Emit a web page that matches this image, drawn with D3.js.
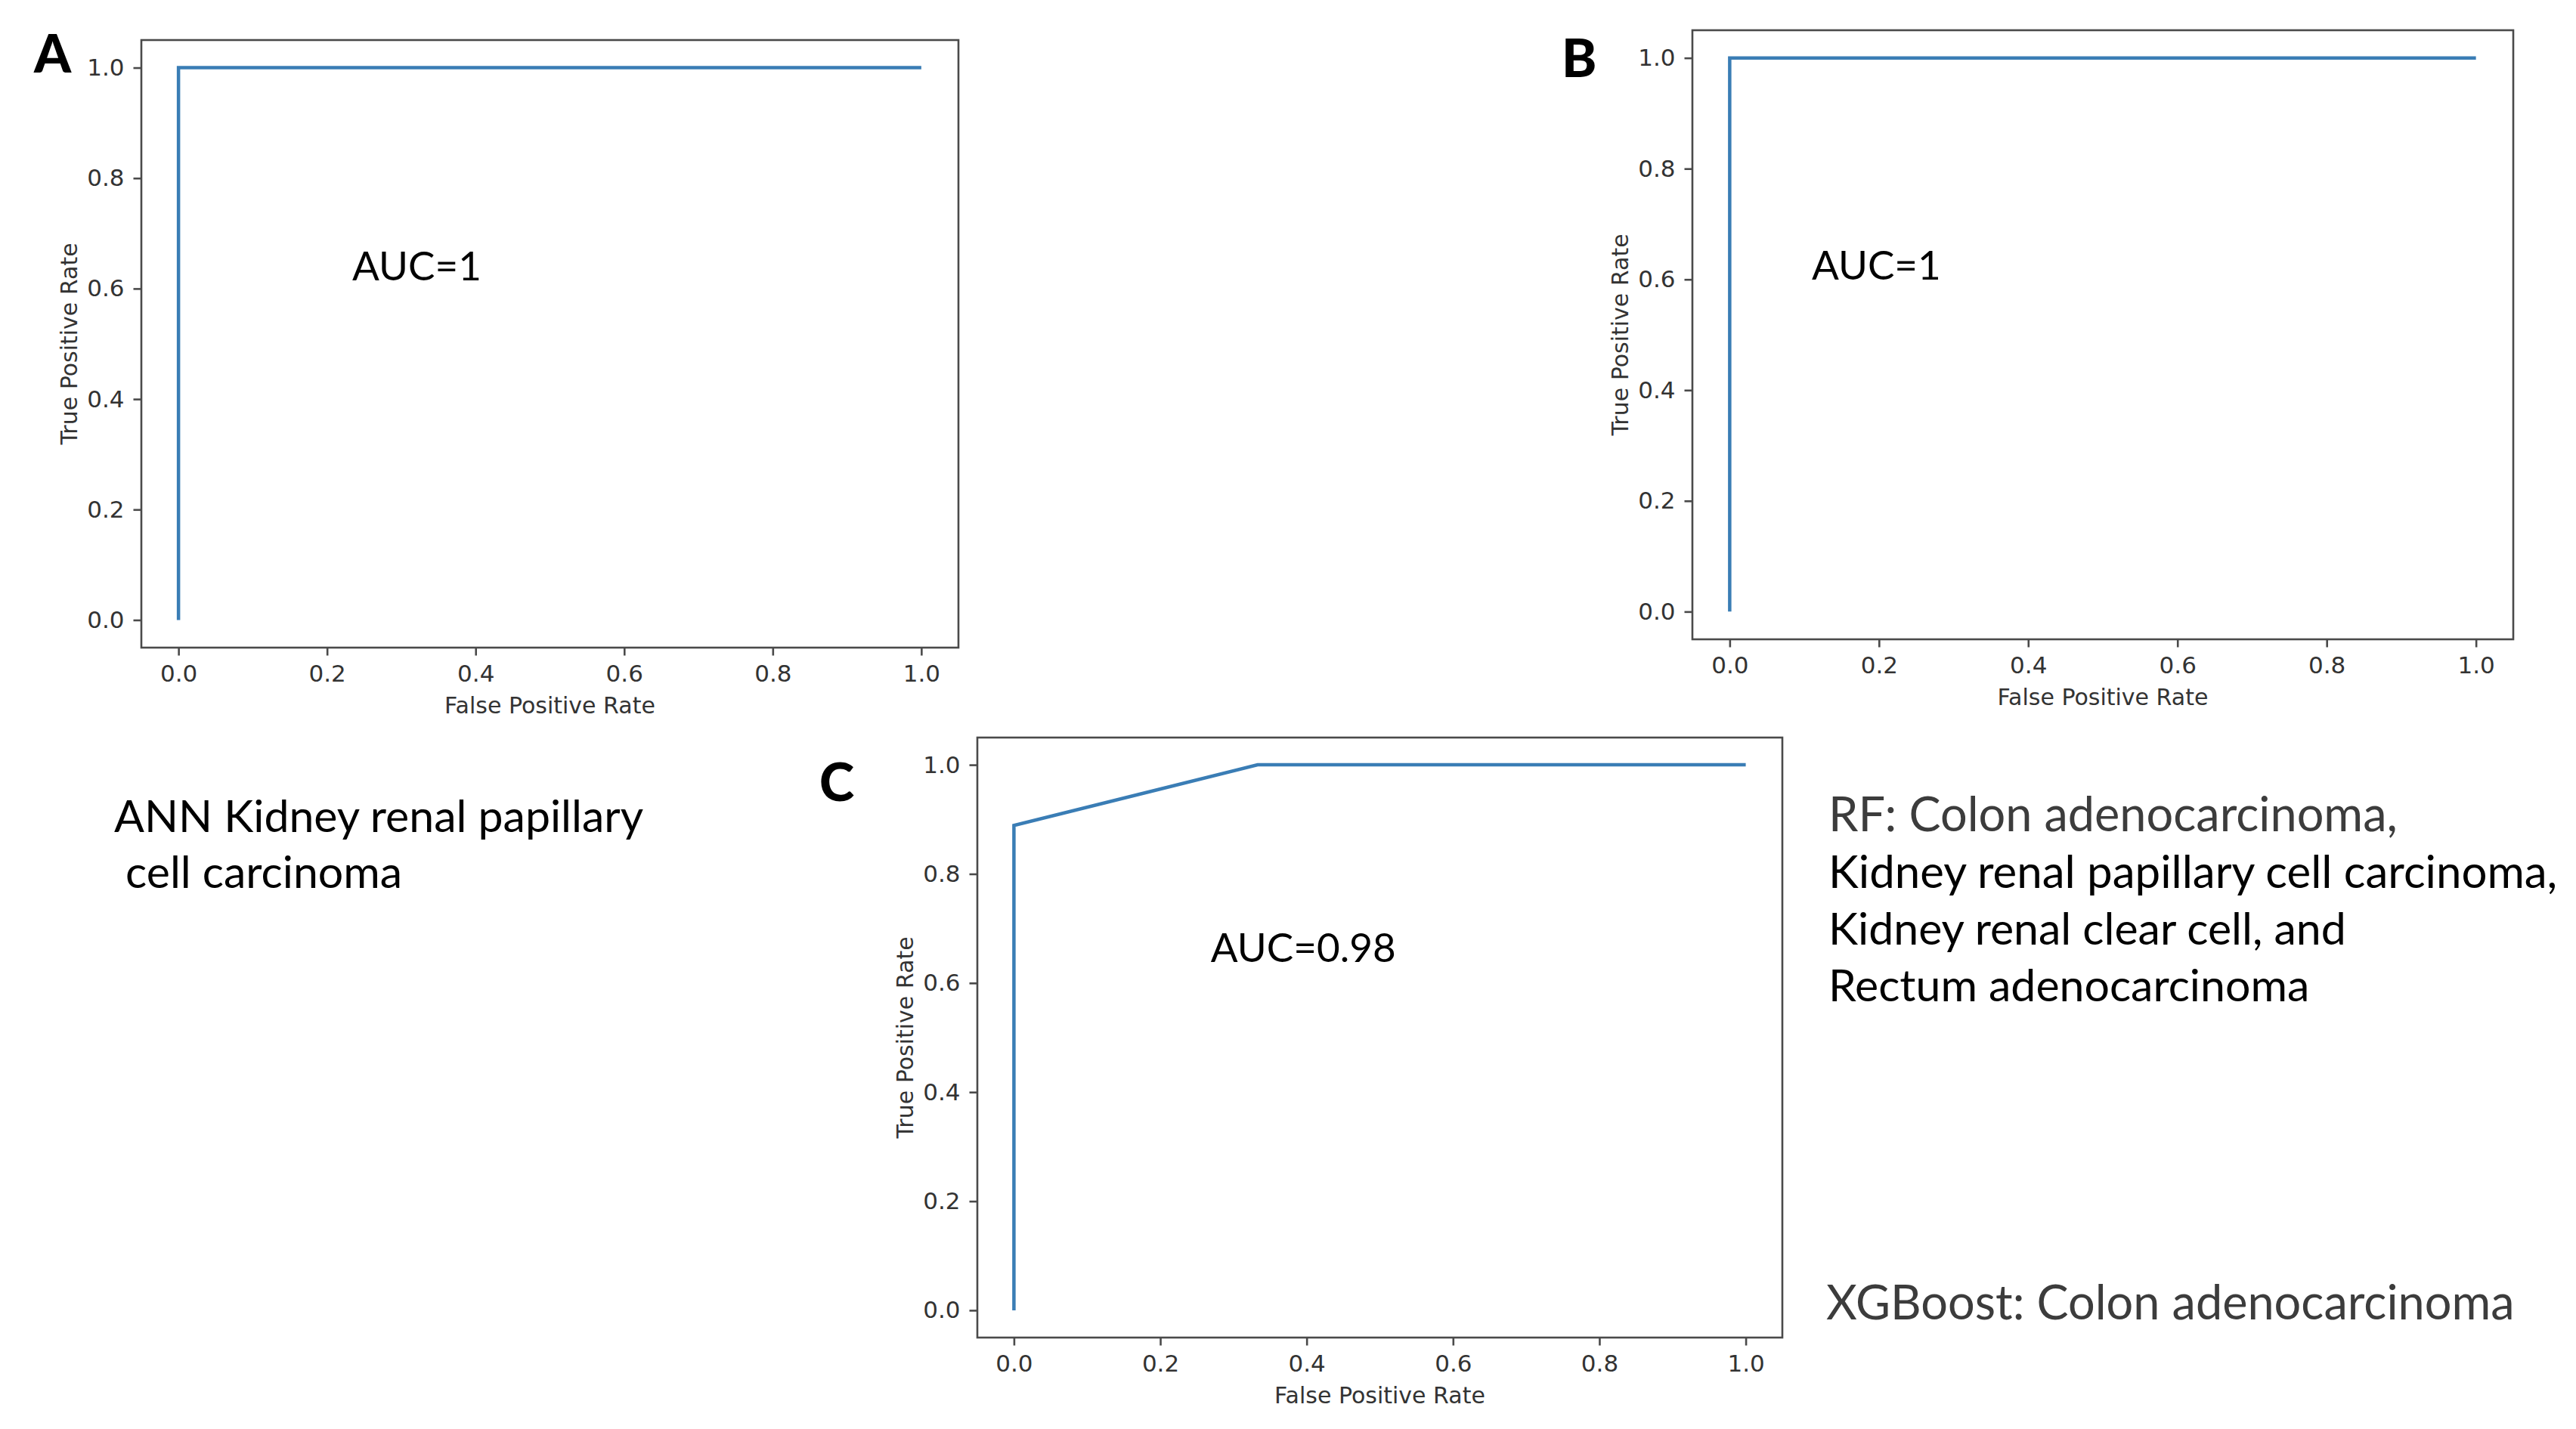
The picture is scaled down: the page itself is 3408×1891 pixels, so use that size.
<!DOCTYPE html>
<html>
<head>
<meta charset="utf-8">
<script src="https://cdn.jsdelivr.net/npm/d3@7"></script>
<style>
  html, body { margin: 0; padding: 0; background: #ffffff; }
  svg text { white-space: pre; }
</style>
</head>
<body>
<svg id="chart" width="3408" height="1891"></svg>
<script>
// ---------------- DATA ----------------
const panelLetters = ["A", "B", "C"];
const fprA = [0, 0, 1];
const tprA = [0, 1, 1];
const fprB = [0, 0, 1];
const tprB = [0, 1, 1];
const fprC = [0, 0, 0.333, 1];
const tprC = [0, 0.889, 1, 1];
const aucLabels = ["AUC=1", "AUC=1", "AUC=0.98"];
const tickValues = [0, 0.2, 0.4, 0.6, 0.8, 1.0];
const tickLabels = ["0.0", "0.2", "0.4", "0.6", "0.8", "1.0"];
const xAxisTitle = "False Positive Rate";
const yAxisTitle = "True Positive Rate";
const annText = ["ANN Kidney renal papillary", " cell carcinoma"];
const rfText = ["RF: Colon adenocarcinoma,", "Kidney renal papillary cell carcinoma,", "Kidney renal clear cell, and", "Rectum adenocarcinoma"];
const xgbText = ["XGBoost: Colon adenocarcinoma"];

// ---------------- LAYOUT ----------------
const series = [
  { fpr: fprA, tpr: tprA },
  { fpr: fprB, tpr: tprB },
  { fpr: fprC, tpr: tprC }
];
const frames = [
  { left: 187,  right: 1268, top: 53,  bottom: 857,  letterX: 45,   letterY: 96,   aucX: 0.234, aucY: 0.615 },
  { left: 2239, right: 3325, top: 40,  bottom: 846,  letterX: 2066, letterY: 102,  aucX: 0.110, aucY: 0.600 },
  { left: 1293, right: 2358, top: 976, bottom: 1770, letterX: 1084, letterY: 1060, aucX: 0.269, aucY: 0.639 }
];
const rfSizes = [63, 60, 59, 59];
const lineColor = "#3a7db5";
const frameColor = "#4a4a4a";
const tickTextColor = "#333333";
const mplFont = "'DejaVu Sans', sans-serif";
const bodyFont = "Lato, 'Open Sans', sans-serif";

const svg = d3.select("#chart");
const domain = [-0.05, 1.05];
const fmt = d => tickLabels[tickValues.indexOf(d)];

series.forEach((s, i) => {
  const f = frames[i];
  const x = d3.scaleLinear().domain(domain).range([f.left, f.right]);
  const y = d3.scaleLinear().domain(domain).range([f.bottom, f.top]);
  const g = svg.append("g");

  // curve
  const pts = s.fpr.map((v, k) => [v, s.tpr[k]]);
  g.append("path")
    .datum(pts)
    .attr("fill", "none")
    .attr("stroke", lineColor)
    .attr("stroke-width", 4.5)
    .attr("stroke-linejoin", "miter")
    .attr("d", d3.line().x(d => x(d[0])).y(d => y(d[1])));

  // frame
  g.append("rect")
    .attr("x", f.left).attr("y", f.top)
    .attr("width", f.right - f.left).attr("height", f.bottom - f.top)
    .attr("fill", "none").attr("stroke", frameColor).attr("stroke-width", 2.6);

  // axes
  const xAxis = d3.axisBottom(x).tickValues(tickValues).tickFormat(fmt).tickSize(10.5).tickPadding(12);
  const yAxis = d3.axisLeft(y).tickValues(tickValues).tickFormat(fmt).tickSize(10.5).tickPadding(12);
  const gx = g.append("g").attr("transform", `translate(0,${f.bottom})`).call(xAxis);
  const gy = g.append("g").attr("transform", `translate(${f.left},0)`).call(yAxis);
  [gx, gy].forEach(ax => {
    ax.select(".domain").remove();
    ax.selectAll(".tick line").attr("stroke", frameColor).attr("stroke-width", 2.6);
    ax.selectAll(".tick text")
      .attr("fill", tickTextColor)
      .style("font-family", mplFont)
      .style("font-size", "31px");
  });

  // axis titles
  g.append("text")
    .attr("x", (f.left + f.right) / 2)
    .attr("y", f.bottom + 87)
    .attr("text-anchor", "middle")
    .attr("fill", tickTextColor)
    .style("font-family", mplFont).style("font-size", "30px")
    .text(xAxisTitle);
  g.append("text")
    .attr("transform", `translate(${f.left - 85},${(f.top + f.bottom) / 2}) rotate(-90)`)
    .attr("text-anchor", "middle")
    .attr("fill", tickTextColor)
    .style("font-family", mplFont).style("font-size", "30px")
    .text(yAxisTitle);

  // AUC annotation
  g.append("text")
    .attr("x", x(f.aucX)).attr("y", y(f.aucY))
    .attr("fill", "#000")
    .style("font-family", bodyFont).style("font-size", "53px")
    .text(aucLabels[i]);

  // panel letter
  g.append("text")
    .attr("x", f.letterX).attr("y", f.letterY)
    .attr("fill", "#000")
    .style("font-family", bodyFont).style("font-size", "70px").style("font-weight", "900")
    .text(panelLetters[i]);
});

// description texts
const desc = svg.append("g").style("font-family", bodyFont);
desc.selectAll("text.ann").data(annText).join("text")
  .attr("class", "ann")
  .attr("x", 151).attr("y", (d, k) => 1101 + k * 74)
  .attr("fill", "#000")
  .style("font-size", "59px")
  .text(d => d);
desc.selectAll("text.rf").data(rfText).join("text")
  .attr("class", "rf")
  .attr("x", 2419).attr("y", (d, k) => 1100 + k * 75)
  .attr("fill", (d, k) => k === 0 ? "#3c3c3c" : "#000")
  .style("font-size", (d, k) => rfSizes[k] + "px")
  .text(d => d);
desc.selectAll("text.xgb").data(xgbText).join("text")
  .attr("class", "xgb")
  .attr("x", 2416).attr("y", 1746)
  .attr("fill", "#3c3c3c")
  .style("font-size", "63px")
  .text(d => d);
</script>
</body>
</html>
